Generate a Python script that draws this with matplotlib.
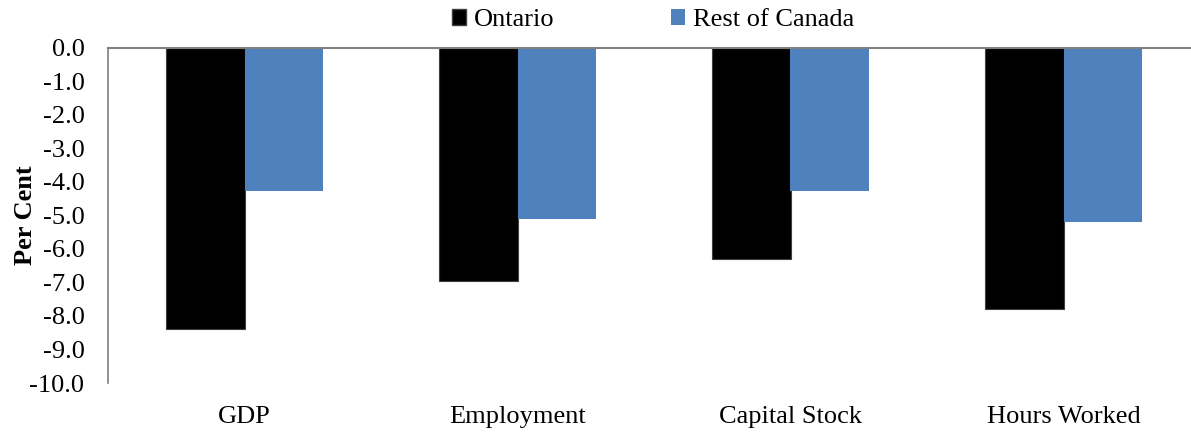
import numpy as np
import matplotlib.pyplot as plt
from matplotlib.patches import Patch

# data
categories = ['GDP', 'Employment', 'Capital Stock', 'Hours Worked']
ontario = [-8.4, -6.95, -6.3, -7.8]
rest_of_canada = [-4.27, -5.1, -4.27, -5.2]
yticks = np.arange(0, -10.5, -1.0)

plt.rcParams['font.family'] = ['Liberation Serif', 'DejaVu Serif']

fig = plt.figure(figsize=(11.91, 4.34), dpi=100)
ax = fig.add_axes([108 / 1191, (434 - 383) / 434, 1092 / 1191, (383 - 47.5) / 434])

x = np.arange(len(categories))
w = 0.286
ax.bar(x - w / 2, ontario, w, color='black', edgecolor='#404040', linewidth=0.8)
ax.bar(x + w / 2, rest_of_canada, w, color='#4F81BD')

ax.set_xlim(-0.5, 3.5)
ax.set_ylim(-10, 0)
ax.set_yticks(yticks)
ax.set_yticklabels(['%.1f' % v for v in yticks], fontsize=19)
ax.tick_params(axis='y', length=0, pad=17)
ax.set_xticks([])

for s in ['right', 'bottom']:
    ax.spines[s].set_visible(False)
ax.spines['left'].set_color('#808080')
ax.spines['top'].set_color('#808080')
ax.spines['left'].set_linewidth(1.2)
ax.spines['top'].set_linewidth(1.5)

for i, c in enumerate(categories):
    ax.text(i, -11.0, c, ha='center', va='center', fontsize=19)

ax.set_ylabel('Per Cent', fontsize=19, fontweight='bold')
ax.yaxis.set_label_coords((37 - 108) / 1092, 0.5)

handles = [Patch(facecolor='black', edgecolor='#404040'), Patch(facecolor='#4F81BD')]
fig.legend(handles, ['Ontario', 'Rest of Canada'], loc='center', bbox_to_anchor=(653 / 1191, 1 - 20 / 434),
           ncol=2, frameon=False, fontsize=19, handlelength=0.55, handleheight=0.55,
           handletextpad=0.3, columnspacing=4.4)

fig.savefig('out.png', dpi=100)
